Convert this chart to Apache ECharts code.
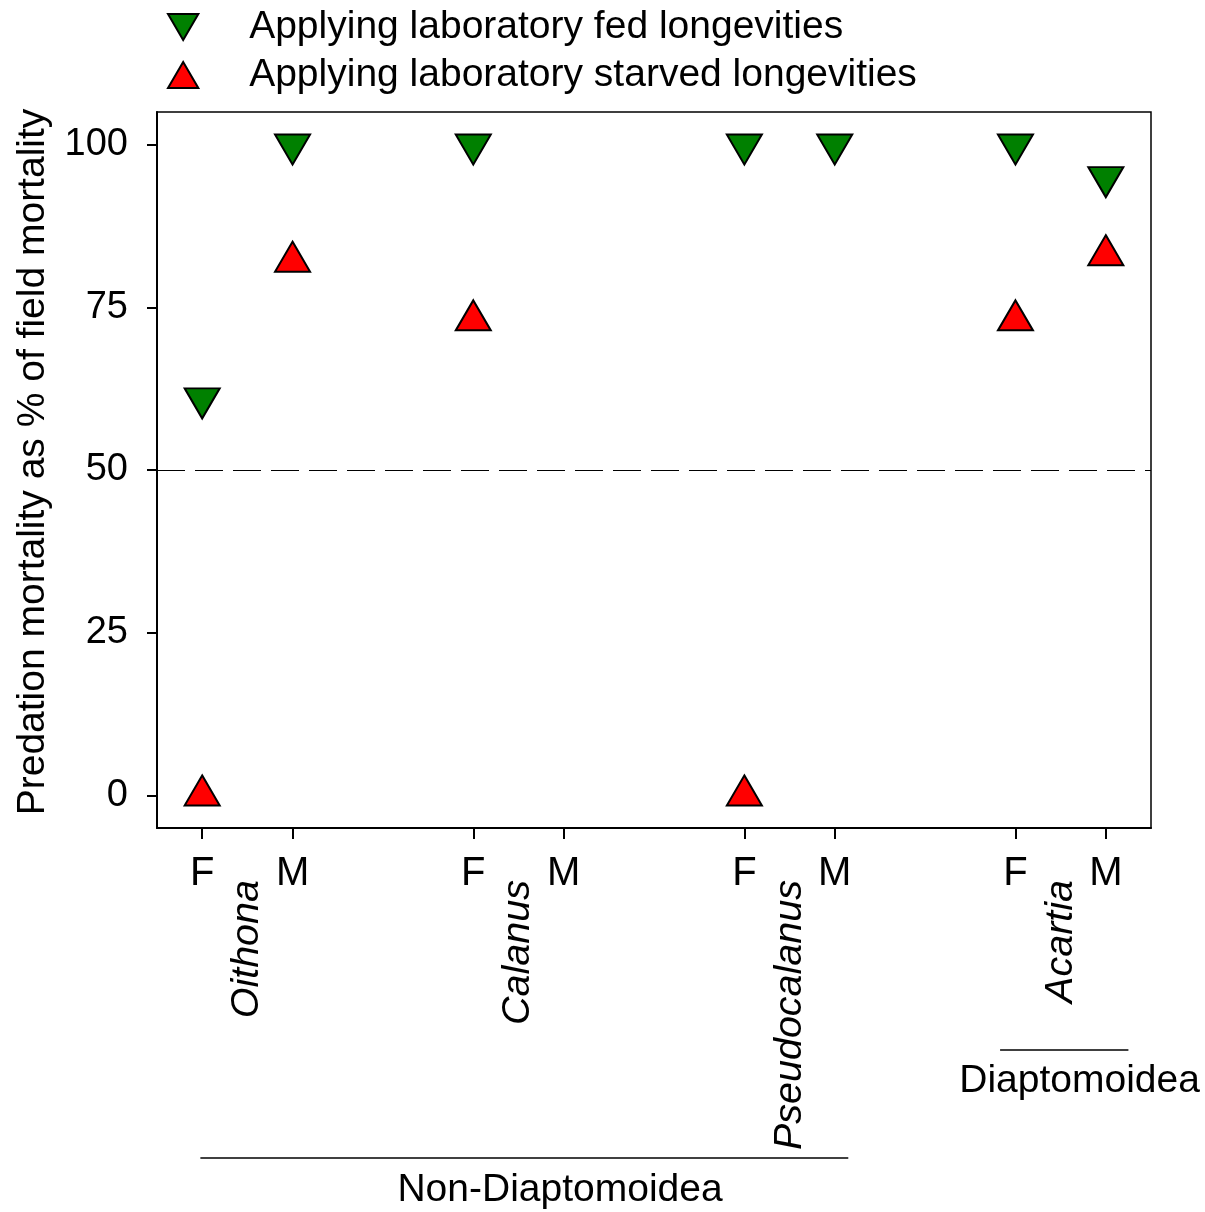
<!DOCTYPE html>
<html>
<head>
<meta charset="utf-8">
<script src="https://cdn.jsdelivr.net/npm/echarts@6/dist/echarts.min.js"></script>
<style>html,body{margin:0;padding:0;background:#fff}#c{width:1205px;height:1212px}</style>
</head>
<body>
<div id="c"></div>
<script>
// ---- data ----
const positions = [0, 1, 3, 4, 6, 7, 9, 10];
const sexLabels = ['F', 'M', 'F', 'M', 'F', 'M', 'F', 'M'];
const genera = ['Oithona', 'Calanus', 'Pseudocalanus', 'Acartia'];
const generaPos = [0.5, 3.5, 6.5, 9.5];
const fedValues = [61, 100, 100, null, 100, 100, 100, 95];
const starvedValues = [0, 82, 73, null, 0, null, 73, 83];
const yTicks = [0, 25, 50, 75, 100];
const groupNames = ['Non-Diaptomoidea', 'Diaptomoidea'];
const seriesNames = ['Applying laboratory fed longevities', 'Applying laboratory starved longevities'];

const FONT = 'Liberation Sans, Arial, Helvetica, sans-serif';
const DOWN = 'path://M0,0 L35,0 L17.5,30 Z';
const UP = 'path://M17.5,0 L35,30 L0,30 Z';

function pairs(vals) {
  const out = [];
  positions.forEach((p, i) => { if (vals[i] !== null) out.push([p, vals[i]]); });
  return out;
}

const chart = echarts.init(document.getElementById('c'), null, { renderer: 'canvas' });
const option = {
  animation: false,
  backgroundColor: '#fff',
  textStyle: { fontFamily: FONT },
  grid: { left: 157, top: 112, right: 54, bottom: 384, show: true, borderColor: '#000', borderWidth: 1.5, backgroundColor: 'transparent' },
  legend: {
    orient: 'vertical', left: 162, top: 2, itemWidth: 122, itemHeight: 26, itemGap: 8,
    textStyle: { fontSize: 39, color: '#000', fontFamily: FONT, lineHeight: 40 },
    data: seriesNames
  },
  xAxis: [
    {
      type: 'value', min: -0.5, max: 10.5, position: 'bottom',
      axisLine: { show: true, onZero: false, lineStyle: { color: '#000', width: 2 } },
      axisTick: { show: true, length: 11, inside: false, customValues: positions, lineStyle: { color: '#000', width: 2 } },
      axisLabel: { customValues: positions, margin: 26, fontSize: 40, color: '#000', fontFamily: FONT,
        formatter: v => sexLabels[positions.indexOf(v)] || '' },
      splitLine: { show: false }
    },
    {
      type: 'value', min: -0.5, max: 10.5, position: 'bottom',
      axisLine: { show: false, onZero: false }, axisTick: { show: false }, splitLine: { show: false },
      axisLabel: { customValues: generaPos, rotate: 90, margin: 52, fontSize: 39.5, fontStyle: 'italic', color: '#000', fontFamily: FONT,
        padding: [0, 0, 10, 0],
        formatter: v => genera[generaPos.indexOf(v)] || '' }
    }
  ],
  yAxis: {
    type: 'value', min: -5, max: 105,
    name: 'Predation mortality as % of field mortality', nameLocation: 'middle', nameGap: 104,
    nameTextStyle: { fontSize: 39, color: '#000', fontFamily: FONT, padding: [0, 0, 0, 16] },
    axisLine: { show: true, onZero: false, lineStyle: { color: '#000', width: 2 } },
    axisTick: { show: true, length: 10, inside: false, customValues: yTicks, lineStyle: { color: '#000', width: 2 } },
    axisLabel: { customValues: yTicks, margin: 29, fontSize: 38, color: '#000', fontFamily: FONT },
    splitLine: { show: false }
  },
  series: [
    {
      name: seriesNames[0], type: 'scatter', data: pairs(fedValues), xAxisIndex: 0,
      symbol: DOWN, symbolSize: [35, 30], symbolOffset: [0, 5], z: 3,
      itemStyle: { color: '#008000', borderColor: '#000', borderWidth: 2, opacity: 1 },
      markLine: {
        silent: true, symbol: 'none', label: { show: false },
        lineStyle: { type: [28, 10], color: '#000', width: 1.2 },
        data: [{ yAxis: 50 }]
      }
    },
    {
      name: seriesNames[1], type: 'scatter', data: pairs(starvedValues), xAxisIndex: 0,
      symbol: UP, symbolSize: [35, 30], symbolOffset: [0, -5], z: 3,
      itemStyle: { color: '#ff0000', borderColor: '#000', borderWidth: 2, opacity: 1 }
    }
  ]
};
chart.setOption(option);

// group brackets below the axis, positioned in data units of the x axis
const px = v => chart.convertToPixel({ xAxisIndex: 0 }, v);
const groups = [
  { name: groupNames[0], from: -0.02, to: 7.15, mid: 3.96, lineY: 1158, textY: 1190 },
  { name: groupNames[1], from: 8.83, to: 10.25, mid: 9.71, lineY: 1050, textY: 1081 }
];
const g = [];
groups.forEach(gr => {
  g.push({ type: 'line', shape: { x1: px(gr.from), y1: gr.lineY, x2: px(gr.to), y2: gr.lineY }, style: { stroke: '#000', lineWidth: 1.5 } });
  g.push({ type: 'text', x: px(gr.mid), y: gr.textY, style: { text: gr.name, fontSize: 39, fontFamily: FONT, fill: '#000', align: 'center', verticalAlign: 'middle' } });
});
chart.setOption({ graphic: g });
</script>
</body>
</html>
